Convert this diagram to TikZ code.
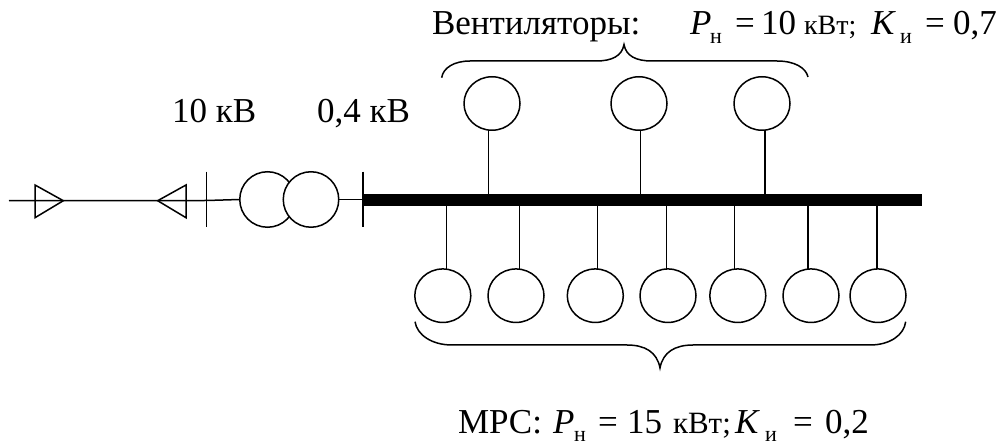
\documentclass[tikz,border=0pt]{standalone}
\usepackage{fontspec}
\usetikzlibrary{shapes.geometric}
\setmainfont{Liberation Serif}
\begin{document}
\begin{tikzpicture}[x=1pt,y=-1pt,line cap=butt,
  wire/.style={line width=1.5pt,black},
  loadc/.style={ellipse,draw,line width=1.5pt,minimum width=56pt,minimum height=53.5pt,inner sep=0pt,outer sep=0pt},
  trafo/.style={circle,draw,fill=white,line width=1.5pt,minimum size=55.5pt,inner sep=0pt,outer sep=0pt},
  lbl/.style={inner sep=0pt,outer sep=0pt,anchor=base west,font=\fontsize{35}{35}\selectfont},
  sm/.style={font=\fontsize{22}{22}\selectfont},
  unit/.style={font=\fontsize{28}{28}\selectfont},
  unitb/.style={font=\fontsize{31}{31}\selectfont}]
\useasboundingbox (0,0) rectangle (1002,446);
% bus
\node[fill=black,inner sep=0pt,outer sep=0pt,minimum width=559pt,minimum height=12pt,anchor=west] (bus) at (363,200) {};
% transformer
\coordinate (s1a) at (206.7,171.7); \coordinate (s1b) at (206.7,227.3);
\coordinate (s2a) at (363,171.7); \coordinate (s2b) at (363,227.3);
\coordinate (s1m) at (206.7,200.5); \coordinate (s2m) at (363,199.5);
\coordinate (lineL) at (9,200.7);
\node[trafo] (t1) at (267.5,199.5) {};
\node[trafo] (t2) at (311,199.5) {};
\draw[wire] (s1a) -- (s1b);
\draw[wire] (s2a) -- (s2b);
\draw[wire] (lineL) -- (s1m) -- (t1.west);
\draw[wire] (t2.east) -- (s2m);
% triangles
\draw[wire,line join=miter] (35,185) -- (35,217.7) -- (63.3,200.7) -- cycle;
\draw[wire,line join=miter] (186,185) -- (186,217.7) -- (157.7,200.7) -- cycle;
% upper loads
\foreach \n/\x/\lx in {u1/492/488.7,u2/639/640.7,u3/762/765}{
  \node[loadc] (\n) at (\x,103.5) {};
  \coordinate (\n b) at (\lx,195);
  \draw[wire] (\n b) -- (\lx,130);
}
% lower loads
\foreach \n/\x/\lx in {d1/442.8/446.7,d2/516/519.7,d3/595.3/597.7,d4/668/666.3,d5/737.8/734.7,d6/811/808,d7/878/877}{
  \node[loadc] (\n) at (\x,295.7) {};
  \coordinate (\n t) at (\lx,205);
  \draw[wire] (\n t) -- (\lx,269.2);
}
% braces
\draw[line width=1.5pt] (441.7,77.7) .. controls (443,68) and (454,61) .. (470,61) -- (596,61) .. controls (612,61) and (622,56) .. (624,44.5) .. controls (626,56) and (636,61) .. (652,61) -- (777,61) .. controls (795,61) and (806,68) .. (808,77);
\draw[line width=1.5pt] (415,321.7) .. controls (417,335) and (432,345) .. (452,345) -- (627,345) .. controls (645,345) and (657,352) .. (660,368) .. controls (663,352) and (675,345) .. (693,345) -- (870,345) .. controls (890,345) and (904,335) .. (905.7,321.7);
% labels
\node[lbl] (v) at (432,35) {Вентиляторы:};
\node[lbl] (vp) at (690,35) {\textit{P}};
\node[lbl,sm] (vn) at (710,44) {н};
\node[lbl] (veq) at (735,35) {=};
\node[lbl] (v10) at (761,35) {10};
\node[lbl,unit] (vk) at (804,35) {кВт;};
\node[lbl] (vk2) at (871,35) {\textit{K}};
\node[lbl,sm] (vi) at (900,44) {и};
\node[lbl] (veq2) at (925,35) {=};
\node[lbl] (v7) at (953,35) {0,7};
\node[lbl] (kv1) at (172,123) {10 кВ};
\node[lbl] (kv2) at (317,123) {0,4 кВ};
\node[lbl] (m) at (458,434) {МРС:};
\node[lbl] (mp) at (553,434) {\textit{P}};
\node[lbl,sm] (mn) at (574,441) {н};
\node[lbl] (meq) at (598,434) {=};
\node[lbl] (m15) at (627,434) {15};
\node[lbl,unitb] (mk) at (673,434) {кВт;};
\node[lbl] (mk2) at (735,434) {\textit{K}};
\node[lbl,sm] (mi) at (765,441) {и};
\node[lbl] (meq2) at (793,434) {=};
\node[lbl] (m2) at (825,434) {0,2};
\end{tikzpicture}
\end{document}
